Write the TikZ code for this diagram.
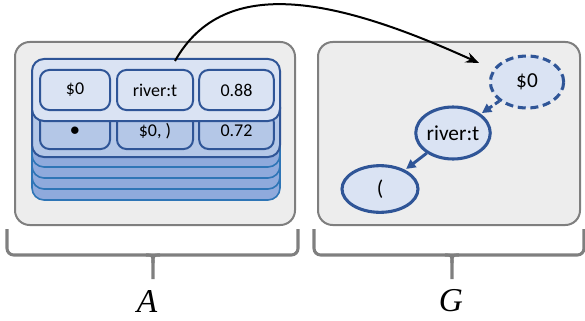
\documentclass[tikz,border=0pt]{standalone}
\usepackage{fontspec}
\setsansfont{Carlito}
\newfontfamily\letterfont{Liberation Serif}
\usetikzlibrary{arrows.meta}
\usetikzlibrary{shapes.geometric}

\definecolor{panelgray}{HTML}{EDEDED}
\definecolor{panelline}{HTML}{7F7F7F}
\definecolor{lightblue}{HTML}{DAE3F3}
\definecolor{midblue}{HTML}{B4C7E7}
\definecolor{deepblue}{HTML}{8FAADC}
\definecolor{darkblue}{HTML}{2F5597}
\definecolor{edgeblue}{HTML}{2E75B6}

\tikzset{
  panel/.style={draw=panelline, fill=panelgray, line width=1.5pt, rounded corners=11pt},
  layer/.style={draw=edgeblue, fill=deepblue, line width=1.2pt, rounded corners=9pt},
  card/.style={draw=darkblue, line width=1.5pt, rounded corners=9pt},
  cell/.style={draw=darkblue, line width=1.5pt, rounded corners=7pt, inner sep=0pt,
    minimum height=30pt, font=\sffamily\fontsize{13.5}{15}\selectfont},
  vertex/.style={ellipse, draw=darkblue, fill=lightblue, line width=2.3pt, inner sep=0pt,
    minimum width=55pt, minimum height=39pt, font=\sffamily\fontsize{16}{18}\selectfont},
  link/.style={-{Triangle[length=7pt,width=7pt]}, draw=darkblue, line width=2.2pt, shorten >=1pt},
  brace/.style={draw=panelline, line width=2.3pt},
  setname/.style={font=\letterfont\itshape\fontsize{25}{28}\selectfont}
}

\begin{document}
\begin{tikzpicture}[x=0.75pt, y=-0.75pt]
\useasboundingbox (0,0) rectangle (585,321);

% panels
\draw[panel] (15,42) rectangle (295,225);
\draw[panel] (318,42) rectangle (580,225);

% stack of rows in A
\foreach \b in {200,189,178,167}
  \draw[layer] (32,\b-45) rectangle (280,\b);
\draw[card, fill=midblue] (32,95) rectangle (280,157);

% second row
\node[cell, fill=midblue, minimum width=52.5pt, minimum height=27pt] (dot) at (75,131) {$\bullet$};
\node[cell, fill=midblue, minimum width=57pt, minimum height=27pt] (pair) at (155,131) {\$0, )};
\node[cell, fill=midblue, minimum width=56pt, minimum height=27pt] (lowscore) at (236.5,131) {0.72};

% top row
\draw[card, fill=lightblue] (32,59) rectangle (280,121);
\node[cell, fill=lightblue, minimum width=52.5pt] (var) at (75,90) {\$0};
\node[cell, fill=lightblue, minimum width=57pt] (word) at (155,90) {river:t};
\node[cell, fill=lightblue, minimum width=56pt] (score) at (236.5,90) {0.88};

\coordinate (start) at (175,61);

% graph G
\node[vertex, dashed, dash pattern=on 6pt off 3.5pt] (root) at (527,82) {\$0};
\node[vertex] (river) at (453,133) {river:t};
\node[vertex, minimum width=57pt, minimum height=35pt] (paren) at (380,189) {(};

\draw[link, dashed, dash pattern=on 4pt off 2.5pt] (root) -- (river);
\draw[link] (river) -- (paren);

% arrow from A to G
\coordinate (target) at (479,63);
\draw[-{Stealth[length=10pt,width=8pt]}, line width=1.5pt] (start) .. controls (225,-28) and (340,0) .. (target);

% braces
\foreach \l/\m/\r in {7/153/298, 314/452/584} {
  \draw[brace, rounded corners=5pt] (\l,229) |- (\r,255) -- (\r,229);
  \draw[brace] (\m-7,255) .. controls (\m,255) .. (\m,263) -- (\m,279);
  \draw[brace] (\m+7,255) .. controls (\m,255) .. (\m,263);
}

\node[setname] (nameA) at (147,301) {A};
\node[setname] (nameG) at (451,301) {G};
\end{tikzpicture}
\end{document}
